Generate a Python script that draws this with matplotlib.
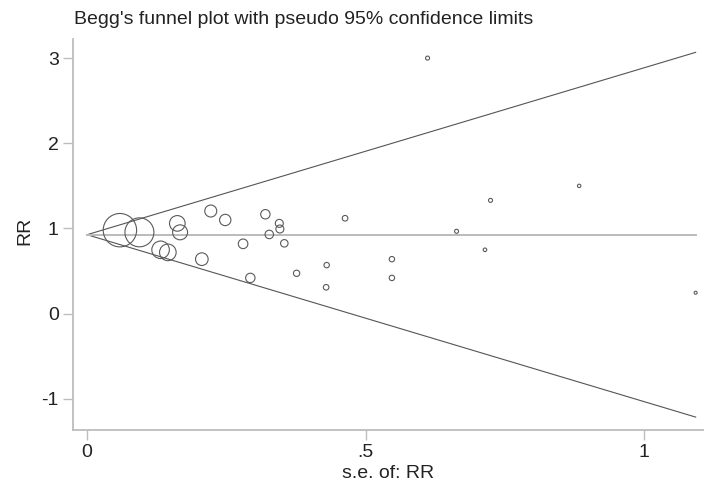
import numpy as np
import matplotlib
matplotlib.use("Agg")
import matplotlib.pyplot as plt

plt.rcParams['font.family'] = ['Liberation Sans', 'DejaVu Sans']

# study data: standard error, RR, relative weight
se = [0.059, 0.094, 0.162, 0.167, 0.132, 0.145, 0.206, 0.222, 0.248, 0.320,
      0.345, 0.346, 0.327, 0.280, 0.354, 0.293, 0.376, 0.430, 0.429, 0.463,
      0.547, 0.547, 0.883, 0.724, 0.663, 0.714, 1.092, 0.611]
rr = [0.98, 0.955, 1.06, 0.955, 0.75, 0.72, 0.64, 1.205, 1.10, 1.167,
      1.06, 0.994, 0.93, 0.82, 0.826, 0.42, 0.474, 0.57, 0.31, 1.12,
      0.64, 0.42, 1.50, 1.33, 0.967, 0.75, 0.246, 3.00]
weight = [279, 210, 61, 56, 77, 69, 40, 36, 32, 22,
          16, 16, 18, 23, 14, 22, 10, 7.3, 7.8, 8,
          7.3, 7.3, 2.9, 4, 4, 3.2, 2.25, 4]
theta = 0.927  # pooled estimate

yticks = [-1, 0, 1, 2, 3]
xticks = [0, 0.5, 1]
xticklabels = ['0', '.5', '1']

fig = plt.figure(figsize=(7.04, 4.87), dpi=100)
ax = fig.add_axes([72.7 / 704, 1 - 430 / 487, 1 - 72.7 / 704, (430 - 39) / 487])

# pseudo 95% confidence limits
s_line = np.linspace(0, max(se), 100)
ax.plot(s_line, theta + 1.96 * s_line, color='#555555', lw=0.8)
ax.plot(s_line, theta - 1.96 * s_line, color='#555555', lw=0.8)
ax.plot([0, max(se)], [theta, theta], color='#bbbbbb', lw=1.4)

# studies, circle area by weight
ax.scatter(se, rr, s=np.array(weight) * (2 * 0.72) ** 2,
           facecolors='none', edgecolors='#5a5a5a', linewidths=0.8, zorder=3)

ax.set_xlim(-0.0257, 1.107)
ax.set_ylim(-1.365, 3.224)
ax.set_xticks(xticks)
ax.set_xticklabels(xticklabels)
ax.set_yticks(yticks)
ax.set_yticklabels([str(t) for t in yticks])

for side in ['top', 'right']:
    ax.spines[side].set_visible(False)
for side in ['left', 'bottom']:
    ax.spines[side].set_color('#bdbdbd')
    ax.spines[side].set_linewidth(1.3)
ax.tick_params(length=7, width=1, color='#bdbdbd', labelsize=14,
               labelcolor='#222222', pad=3)

ax.set_ylabel('RR', fontsize=14, color='#222222')
ax.yaxis.set_label_coords((33 - 72.7) / 631.3, 0.51)
ax.set_xlabel('s.e. of: RR', fontsize=14, color='#222222')
ax.xaxis.set_label_coords(0.5, -0.09)

fig.text(74 / 704, 1 - 24 / 487, "Begg's funnel plot with pseudo 95% confidence limits",
         ha='left', va='baseline', fontsize=14, color='#222222')

fig.savefig('out.png', dpi=100)
